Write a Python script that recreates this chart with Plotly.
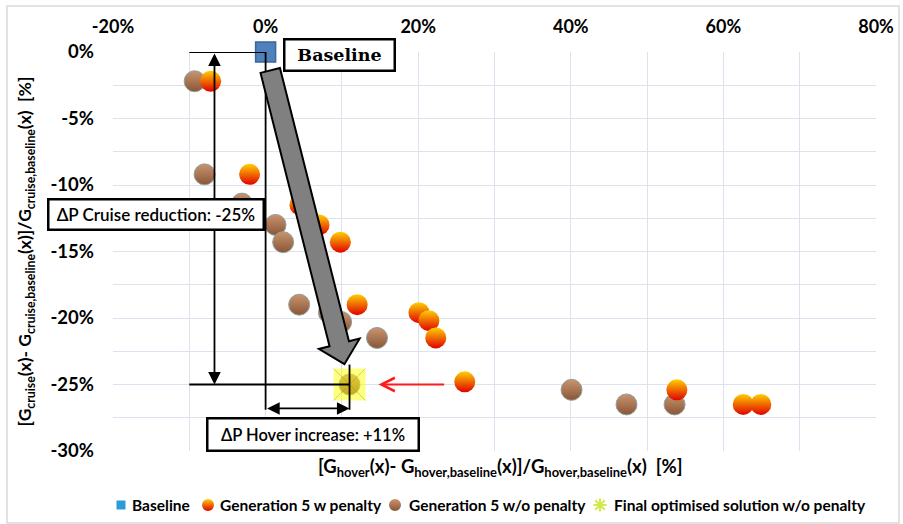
import math
import plotly.graph_objects as go

# ---- data (percent) ----
baseline_x = [0.0]
baseline_y = [0.0]

gen5_pen_x = [-7.2, -2.1, 4.5, 7.0, 9.8, 12.0, 20.1, 21.4, 22.3, 26.1, 53.9, 62.6, 64.9]
gen5_pen_y = [-2.2, -9.2, -11.5, -13.0, -14.3, -19.0, -19.6, -20.2, -21.5, -24.8, -25.4, -26.5, -26.5]

gen5_nopen_x = [-9.3, -8.0, -3.1, 1.3, 2.3, 4.4, 8.3, 9.9, 14.6, 11.0, 40.1, 47.3, 53.6]
gen5_nopen_y = [-2.2, -9.2, -11.4, -13.0, -14.3, -19.0, -19.6, -20.3, -21.5, -25.0, -25.4, -26.5, -26.5]

final_x = [11.0]
final_y = [-25.0]

cruise_reduction = -25
hover_increase = 11

x_ticks = [-20, 0, 20, 40, 60, 80]
y_ticks = [0, -5, -10, -15, -20, -25, -30]

legend_names = ["Baseline", "Generation 5 w penalty", "Generation 5 w/o penalty",
                "Final optimised solution w/o penalty"]

# ---- layout geometry (pixels) ----
W, H = 903, 524
L, R, T, B = 113, 876, 52, 451
X0, X1 = -20, 80
Y0, Y1 = -30, 0
SX = (R - L) / (X1 - X0)   # px per % on x
SY = (B - T) / (Y1 - Y0)   # px per % on y

FONT = "Lato"
GRID = "#DCE3EE"

ORANGE = dict(color="#FFD000", gradient=dict(type="vertical", color="#E00000"))
BROWN = dict(color="#C99570", gradient=dict(type="vertical", color="#8A5535"))


def px_x(px):
    return px / W


def px_y(py):
    return 1 - py / H


fig = go.Figure()

# data markers
fig.add_trace(go.Scatter(
    x=gen5_nopen_x, y=gen5_nopen_y, mode="markers", showlegend=False, cliponaxis=False,
    marker=dict(size=21, symbol="circle", line=dict(color="#8FA0A0", width=1), **BROWN)))
fig.add_trace(go.Scatter(
    x=gen5_pen_x, y=gen5_pen_y, mode="markers", showlegend=False, cliponaxis=False,
    marker=dict(size=21, symbol="circle", line=dict(width=0), **ORANGE)))
fig.add_trace(go.Scatter(
    x=baseline_x, y=baseline_y, mode="markers", showlegend=False, cliponaxis=False,
    marker=dict(size=20, color="#4F81BD", symbol="square",
                line=dict(color="#3A6698", width=1.5))))
fig.add_trace(go.Scatter(
    x=final_x, y=final_y, mode="markers", showlegend=False, cliponaxis=False,
    marker=dict(size=32, color="rgba(255,255,0,0.5)", symbol="square", line=dict(width=0))))
fig.add_trace(go.Scatter(
    x=final_x, y=final_y, mode="markers", showlegend=False, cliponaxis=False,
    marker=dict(size=32, color="rgba(150,150,90,0.45)", symbol="x-thin-open",
                line=dict(color="rgba(150,150,90,0.45)", width=1))))

shapes = []
annotations = []


def line(x0, y0, x1, y1, color="black", width=1.8):
    shapes.append(dict(type="line", xref="x", yref="y", x0=x0, y0=y0, x1=x1, y1=y1,
                       line=dict(color=color, width=width)))


def arrow(x0, y0, x1, y1, both=False, color="black", width=1.8, head=2, size=1.4):
    annotations.append(dict(x=x1, y=y1, ax=x0, ay=y0, xref="x", yref="y",
                            axref="x", ayref="y", text="", showarrow=True,
                            arrowhead=head, startarrowhead=head, arrowsize=size,
                            startarrowsize=size, arrowwidth=width, arrowcolor=color,
                            arrowside="end+start" if both else "end"))


fx, fy = final_x[0], final_y[0]
bx, by = baseline_x[0], baseline_y[0]

# cruise reduction bracket
line(-10, by, bx, by)
line(-10, fy, fx, fy)
arrow(-6.7, by, -6.7, fy, both=True)

# hover increase bracket
line(bx, by, bx, -26.9)
line(fx, -23.5, fx, -26.9)
arrow(bx, -26.8, fx, -26.8, both=True)

# red pointer towards the final solution
arrow(23.6, fy, 14.8, fy, color="#FF1A1A", width=2.2, head=5, size=1.2)

# big grey arrow from baseline to final solution (built in pixel space)
p0 = ((bx - X0) * SX, (Y1 - by) * SY)
p1 = ((fx - X0) * SX, (Y1 - fy) * SY)
dx, dy = p1[0] - p0[0], p1[1] - p0[1]
ln = math.hypot(dx, dy)
ux, uy = dx / ln, dy / ln
nx, ny = uy, -ux
start_off, end_off = 19, 21
bw, hw, hl = 10, 21, 21
s = (p0[0] + ux * start_off, p0[1] + uy * start_off)
tip = (p1[0] - ux * end_off, p1[1] - uy * end_off)
neck = (tip[0] - ux * hl, tip[1] - uy * hl)
pts = [
    (s[0] + nx * bw, s[1] + ny * bw),
    (neck[0] + nx * bw, neck[1] + ny * bw),
    (neck[0] + nx * hw, neck[1] + ny * hw),
    tip,
    (neck[0] - nx * hw, neck[1] - ny * hw),
    (neck[0] - nx * bw, neck[1] - ny * bw),
    (s[0] - nx * bw, s[1] - ny * bw),
]


def to_data(p):
    return X0 + p[0] / SX, Y1 - p[1] / SY


path = "M " + " L ".join(f"{to_data(p)[0]:.4f},{to_data(p)[1]:.4f}" for p in pts) + " Z"
shapes.append(dict(type="path", xref="x", yref="y", path=path,
                   fillcolor="#808080", line=dict(color="black", width=2)))

# outer frame
shapes.append(dict(type="rect", xref="paper", yref="paper",
                   x0=px_x(7), x1=px_x(899), y0=px_y(523), y1=px_y(6),
                   line=dict(color="#D9D9D9", width=1.5)))


def box(text, cx_px, cy_px, w, h, font):
    annotations.append(dict(x=px_x(cx_px), y=px_y(cy_px),
                            xref="paper", yref="paper", text=text, showarrow=False,
                            width=w, height=h, bgcolor="white", bordercolor="black",
                            borderwidth=2.5, borderpad=0, font=font,
                            xanchor="center", yanchor="middle", align="center"))


box(f"ΔP Cruise reduction: {cruise_reduction}%", 156, 215, 213, 28,
    dict(family=FONT, size=17, color="black", weight=600))
box(f"ΔP Hover increase: +{hover_increase}%", 313, 434.5, 209, 30,
    dict(family=FONT, size=16.5, color="black", weight=600))
box("<b>Baseline</b>", 339, 54.5, 108, 29,
    dict(family="DejaVu Serif", size=17.5, color="black"))

# legend row beneath the chart: symbol on a full-figure pixel overlay + text
LEG_Y = 505
leg_marker_x = [121, 208, 395, 600]
leg_text_x = [130, 218, 407, 612]
leg_styles = [
    dict(size=9, symbol="square", color="#2E9AD8", line=dict(width=0)),
    dict(size=12, symbol="circle", line=dict(width=0), **ORANGE),
    dict(size=12, symbol="circle", line=dict(width=0), **BROWN),
    dict(size=11, symbol="asterisk-open", color="#D4E84A", line=dict(color="#D4E84A", width=2)),
]
for mx, st in zip(leg_marker_x, leg_styles):
    fig.add_trace(go.Scatter(x=[mx], y=[LEG_Y], mode="markers", xaxis="x2", yaxis="y2",
                             showlegend=False, hoverinfo="skip", marker=st))
for tx, name in zip(leg_text_x, legend_names):
    annotations.append(dict(x=px_x(tx), y=px_y(LEG_Y), xref="paper", yref="paper",
                            text=name, showarrow=False, xanchor="left", yanchor="middle",
                            font=dict(family=FONT, size=15.5, color="black", weight=700)))

# x-axis title sits below the plot while the tick labels are on top
annotations.append(dict(
    text="[G<sub>hover</sub>(x)- G<sub>hover,baseline</sub>(x)]/G<sub>hover,baseline</sub>(x)  [%]",
    xref="paper", yref="paper", x=px_x(500), y=px_y(467),
    showarrow=False, xanchor="center", yanchor="middle",
    font=dict(family=FONT, size=18.5, color="black", weight=700)))

fig.update_layout(
    width=W, height=H,
    margin=dict(l=0, r=0, t=0, b=0, pad=0),
    paper_bgcolor="white", plot_bgcolor="rgba(0,0,0,0)",
    font=dict(family=FONT, color="black"),
    shapes=shapes, annotations=annotations,
    showlegend=False,
    xaxis=dict(domain=[L / W, R / W], anchor="y", range=[X0, X1], side="top",
               tickvals=x_ticks, ticktext=[f"{v}%" for v in x_ticks],
               tickfont=dict(family=FONT, size=18, weight="bold"),
               showgrid=True, gridcolor=GRID, gridwidth=1,
               minor=dict(dtick=10, showgrid=True, gridcolor=GRID, gridwidth=1),
               zeroline=False, showline=False, ticks="", ticklabelstandoff=14,
               automargin=False, fixedrange=True),
    yaxis=dict(domain=[1 - B / H, 1 - T / H], anchor="x", range=[Y0, Y1],
               tickvals=y_ticks, ticktext=[f"{v}%" for v in y_ticks],
               tickfont=dict(family=FONT, size=18.5, weight="bold"),
               showgrid=True, gridcolor=GRID, gridwidth=1,
               minor=dict(dtick=2.5, showgrid=True, gridcolor=GRID, gridwidth=1),
               zeroline=False, showline=False, ticks="", ticklabelstandoff=18,
               title=dict(text="[G<sub>cruise</sub>(x)- G<sub>cruise,baseline</sub>(x)]/"
                               "G<sub>cruise,baseline</sub>(x)  [%]",
                          font=dict(family=FONT, size=17.5, weight="bold"), standoff=14),
               automargin=False, fixedrange=True),
    # full-figure pixel space used only for the legend symbols
    xaxis2=dict(domain=[0, 1], anchor="y2", range=[0, W], visible=False,
                showgrid=False, zeroline=False, fixedrange=True),
    yaxis2=dict(domain=[0, 1], anchor="x2", range=[H, 0], visible=False,
                showgrid=False, zeroline=False, fixedrange=True),
)

fig.write_html("out.html")
